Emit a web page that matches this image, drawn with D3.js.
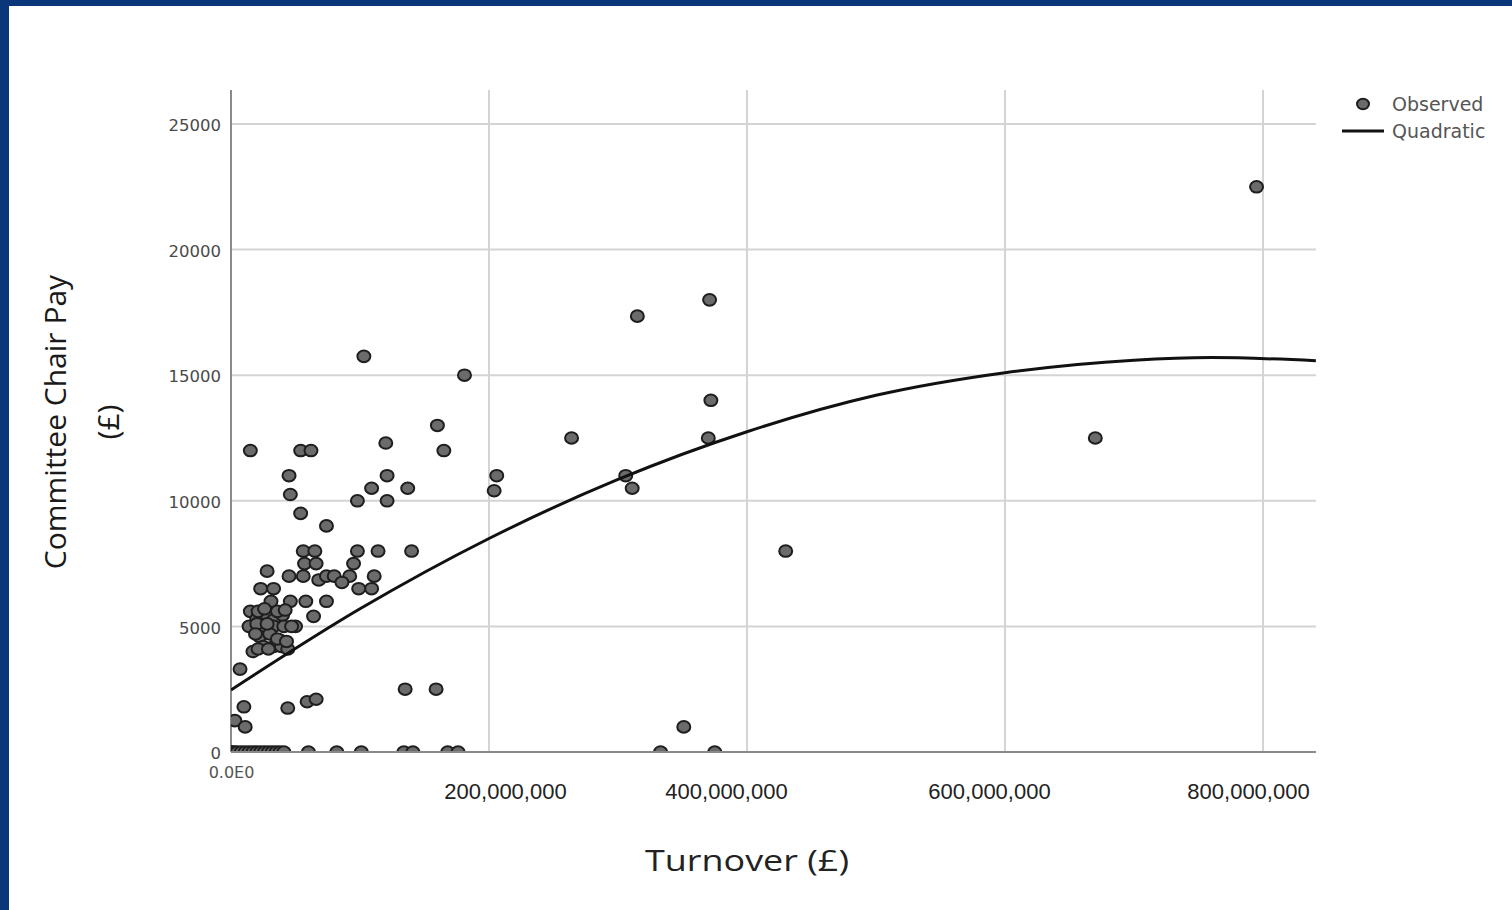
<!DOCTYPE html>
<html>
<head>
<meta charset="utf-8">
<script src="https://cdn.jsdelivr.net/npm/d3@7"></script>
<style>
  html, body { margin: 0; padding: 0; background: #fff; }
  svg { display: block; }
</style>
</head>
<body>
<svg id="chart"></svg>
<script>
// Observed points: turnover in £ millions, committee chair pay in £
const observedTurnover = [
  15, 54, 62, 45, 46, 54, 74, 103, 98, 109, 120, 121, 121, 137, 160, 165, 181, 206, 204, 264,
  315, 306, 311, 371, 372, 370, 430, 670, 795,
  56, 65, 98, 114, 140,
  95, 92, 57, 66, 28, 45, 56, 68, 74, 80, 86, 111, 109, 99, 23, 33,
  31, 46, 58, 74,
  15, 64, 20, 27, 33, 40, 50, 25, 33, 41, 14, 22, 30, 38, 17, 25, 33, 39, 44, 7,
  21, 26, 36, 42, 20, 28, 47, 19, 36, 43, 21, 29,
  10, 3, 11, 44, 59, 66, 135, 159, 351,
  0, 1, 3, 5, 8, 11, 14, 17, 20, 23, 26, 29, 32, 35, 38, 41, 60, 82, 101, 134, 141, 168, 176, 333, 375
];
const observedPay = [
  12000, 12000, 12000, 11000, 10250, 9500, 9000, 15750, 10000, 10500, 12300, 11000, 10000, 10500, 13000, 12000, 15000, 11000, 10400, 12500,
  17350, 11000, 10500, 18000, 14000, 12500, 8000, 12500, 22500,
  8000, 8000, 8000, 8000, 8000,
  7500, 7000, 7500, 7500, 7200, 7000, 7000, 6850, 7000, 7000, 6750, 7000, 6500, 6500, 6500, 6500,
  6000, 6000, 6000, 6000,
  5600, 5400, 5300, 5500, 5250, 5450, 5000, 5000, 5000, 5000, 5000, 4600, 4700, 4450, 4000, 4200, 4200, 4200, 4100, 3300,
  5600, 5700, 5600, 5650, 5100, 5100, 5000, 4700, 4500, 4400, 4100, 4100,
  1800, 1250, 1000, 1750, 2000, 2100, 2500, 2500, 1000,
  0, 0, 0, 0, 0, 0, 0, 0, 0, 0, 0, 0, 0, 0, 0, 0, 0, 0, 0, 0, 0, 0, 0, 0, 0
];

// Quadratic fit line (turnover £m, pay £)
const curveTurnover = [0, 100, 200, 300, 400, 500, 600, 700, 760, 841];
const curvePay = [2470, 5700, 8500, 10850, 12750, 14200, 15100, 15600, 15700, 15580];

const xTicks = [0, 200e6, 400e6, 600e6, 800e6];
const yTicks = [0, 5000, 10000, 15000, 20000, 25000];
const legendItems = ['Observed', 'Quadratic'];

const width = 1512, height = 910;
const svg = d3.select('#chart').attr('width', width).attr('height', height);

// dark blue frame on top and left edges
svg.append('rect').attr('x', 0).attr('y', 0).attr('width', width).attr('height', 6).attr('fill', '#0a377a');
svg.append('rect').attr('x', 0).attr('y', 0).attr('width', 9).attr('height', height).attr('fill', '#0a377a');

const x = d3.scaleLinear().domain([0, 800e6]).range([231, 1263]);
const y = d3.scaleLinear().domain([0, 25000]).range([752, 124]);
const xMax = 841e6, yMax = 26350;

// grid
const grid = svg.append('g');
grid.selectAll('.vgrid')
  .data(xTicks.filter(d => d > 0))
  .enter().append('line')
  .attr('x1', d => x(d)).attr('x2', d => x(d))
  .attr('y1', y(yMax)).attr('y2', y(0))
  .style('stroke', '#d4d4d4').style('stroke-width', 2);
grid.selectAll('.hgrid')
  .data(yTicks.filter(d => d > 0))
  .enter().append('line')
  .attr('x1', x(0)).attr('x2', x(xMax))
  .attr('y1', d => y(d)).attr('y2', d => y(d))
  .style('stroke', '#d4d4d4').style('stroke-width', 2);

// axes lines
svg.append('line')
  .attr('x1', x(0)).attr('x2', x(0)).attr('y1', y(yMax)).attr('y2', y(0))
  .style('stroke', '#8a8a8a').style('stroke-width', 2);
svg.append('line')
  .attr('x1', x(0)).attr('x2', x(xMax)).attr('y1', y(0)).attr('y2', y(0))
  .style('stroke', '#8a8a8a').style('stroke-width', 2);

// y tick labels
const yAxis = svg.append('g')
  .attr('transform', `translate(${x(0)},0)`)
  .call(d3.axisLeft(y).tickValues(yTicks).tickSize(0).tickPadding(10).tickFormat(d3.format('d')));
yAxis.select('.domain').remove();
yAxis.selectAll('text')
  .attr('dy', '0.4em')
  .style('font-family', 'DejaVu Sans')
  .style('font-size', '16.5px')
  .style('fill', '#4a4a4a');

// x tick labels
const xNudge = { 200000000: 16, 400000000: -21, 600000000: -16, 800000000: -15 };
const xAxis = svg.append('g')
  .attr('transform', `translate(0,${y(0)})`)
  .call(d3.axisBottom(x).tickValues(xTicks).tickSize(0).tickPadding(0)
    .tickFormat(d => d === 0 ? '0.0E0' : d3.format(',')(d)));
xAxis.select('.domain').remove();
xAxis.selectAll('text')
  .attr('dy', 0)
  .attr('x', d => xNudge[d] || 0)
  .attr('y', d => d === 0 ? 26 : 47)
  .style('font-family', d => d === 0 ? 'DejaVu Sans' : 'Liberation Sans')
  .style('font-size', d => d === 0 ? '16px' : '22px')
  .style('fill', d => d === 0 ? '#555' : '#222');

// clip so zero points are cut by the axis
svg.append('clipPath').attr('id', 'plot-clip')
  .append('rect')
  .attr('x', x(0)).attr('y', y(yMax))
  .attr('width', x(xMax) - x(0)).attr('height', y(0) - y(yMax) - 1);

const plot = svg.append('g').attr('clip-path', 'url(#plot-clip)');

const points = observedTurnover.map((t, i) => ({ turnover: t * 1e6, pay: observedPay[i] }));
plot.selectAll('.dot')
  .data(points)
  .enter().append('ellipse')
  .attr('class', 'dot')
  .attr('cx', d => x(d.turnover))
  .attr('cy', d => y(d.pay))
  .attr('rx', 6.5).attr('ry', 5.8)
  .style('fill', '#6b6b6b')
  .style('stroke', '#1e1e1e')
  .style('stroke-width', 2);

const curve = curveTurnover.map((t, i) => ({ turnover: t * 1e6, pay: curvePay[i] }));
const line = d3.line()
  .x(d => x(d.turnover))
  .y(d => y(d.pay))
  .curve(d3.curveMonotoneX);
plot.append('path')
  .datum(curve)
  .attr('d', line)
  .style('fill', 'none')
  .style('stroke', '#111')
  .style('stroke-width', 3);

// legend
const legend = svg.append('g').attr('transform', 'translate(1342,104)');
const li = legend.selectAll('.legend-item')
  .data(legendItems)
  .enter().append('g')
  .attr('class', 'legend-item')
  .attr('transform', (d, i) => `translate(0,${i * 27})`);
li.filter(d => d === 'Observed').append('ellipse')
  .attr('cx', 21).attr('cy', 0).attr('rx', 6).attr('ry', 5.3)
  .style('fill', '#6b6b6b').style('stroke', '#1e1e1e').style('stroke-width', 2);
li.filter(d => d === 'Quadratic').append('line')
  .attr('x1', 0).attr('x2', 42).attr('y1', 0).attr('y2', 0)
  .style('stroke', '#111').style('stroke-width', 3);
li.append('text')
  .attr('x', 50).attr('y', 0).attr('dy', '0.36em')
  .style('font-family', 'DejaVu Sans')
  .style('font-size', '19px')
  .style('fill', '#555')
  .text(d => d);

// axis titles
svg.append('text')
  .attr('x', 747).attr('y', 871)
  .attr('text-anchor', 'middle')
  .attr('textLength', 204).attr('lengthAdjust', 'spacingAndGlyphs')
  .style('font-family', 'Open Sans')
  .style('font-size', '30px')
  .style('fill', '#222')
  .text('Turnover (£)');

const yTitle = svg.append('text')
  .attr('transform', 'translate(66,422) rotate(-90)')
  .attr('text-anchor', 'middle')
  .style('font-family', 'Open Sans')
  .style('font-size', '30px')
  .style('fill', '#1a1a1a');
yTitle.append('tspan').attr('x', 0).attr('dy', 0).text('Committee Chair Pay');
yTitle.append('tspan').attr('x', 0).attr('dy', 53).text('(£)');
</script>
</body>
</html>
